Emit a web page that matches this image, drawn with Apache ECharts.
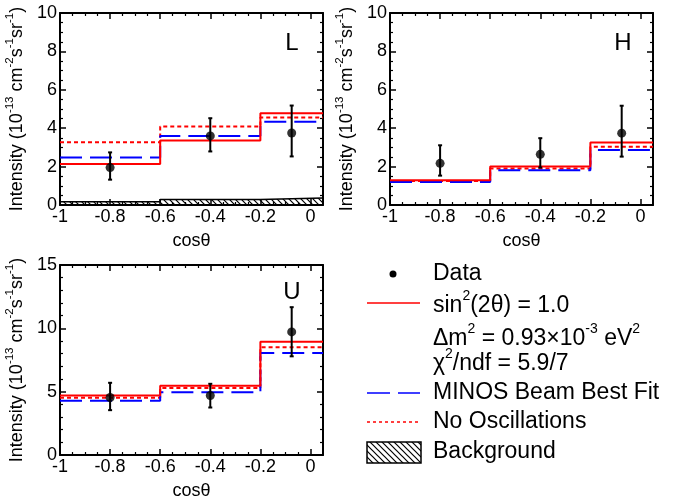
<!DOCTYPE html>
<html><head><meta charset="utf-8">
<script src="https://cdn.jsdelivr.net/npm/echarts@6/dist/echarts.min.js"></script>
<style>html,body{margin:0;padding:0;background:#fff}#c{width:681px;height:501px}</style>
</head><body><div id="c"></div>
<script>
// ---- data ----
var binEdges = [-1, -0.6, -0.2, 0.05];
var dataX = [-0.8, -0.4, -0.075];

var L_data = [1.95, 3.6, 3.75];
var L_errLow = [1.32, 2.79, 2.53];
var L_errHigh = [2.74, 4.52, 5.18];
var L_osc = [2.14, 3.36, 4.78];
var L_minos = [2.47, 3.6, 4.33];
var L_noOsc = [3.27, 4.09, 4.56];
var L_bkg = [0.17, 0.28, 0.36];

var H_data = [2.17, 2.64, 3.74];
var H_errLow = [1.53, 1.95, 2.52];
var H_errHigh = [3.11, 3.48, 5.17];
var H_osc = [1.29, 2.0, 3.25];
var H_minos = [1.2, 1.81, 2.87];
var H_noOsc = [1.25, 1.9, 3.03];
var H_bkg = [0, 0, 0];

var U_data = [4.54, 4.7, 9.72];
var U_errLow = [3.54, 3.75, 7.79];
var U_errHigh = [5.7, 5.62, 11.67];
var U_osc = [4.7, 5.47, 8.95];
var U_minos = [4.28, 4.96, 8.05];
var U_noOsc = [4.52, 5.28, 8.5];
var U_bkg = [0, 0, 0];

var xTicks = [-1, -0.8, -0.6, -0.4, -0.2, 0];
var panelNames = ['L', 'H', 'U'];

// ---- helpers ----
var FONT = "'Liberation Sans', Arial, Helvetica, sans-serif";
function stepData(vals) {
  var d = [];
  for (var i = 0; i < vals.length; i++) d.push([binEdges[i], vals[i]]);
  d.push([binEdges[binEdges.length - 1], vals[vals.length - 1]]);
  return d;
}
var hatch = document.createElement('canvas');
hatch.width = 6; hatch.height = 6;
(function () {
  var ctx = hatch.getContext('2d');
  ctx.strokeStyle = '#000'; ctx.lineWidth = 1.2;
  ctx.beginPath();
  ctx.moveTo(-1, -1); ctx.lineTo(7, 7);
  ctx.moveTo(-1, 5); ctx.lineTo(1, 7);
  ctx.moveTo(5, -1); ctx.lineTo(7, 1);
  ctx.stroke();
})();
var hatchPattern = { image: hatch, repeat: 'repeat' };

var grids = [
  { left: 60, top: 13, width: 263, height: 192 },
  { left: 390, top: 13, width: 263, height: 192 },
  { left: 60, top: 265, width: 263, height: 191 }
];
var yMax = [10, 10, 15];
var yInt = [2, 2, 5];
var yMinor = [4, 4, 5];

var yName = '{n|Intensity (10}{s|-13}{n| cm}{s|-2}{n|s}{s|-1}{n|sr}{s|-1}{n|)}';
var yRich = {
  n: { fontSize: 18, fontFamily: FONT, color: '#000', lineHeight: 22, verticalAlign: 'bottom' },
  s: { fontSize: 11.5, fontFamily: FONT, color: '#000', lineHeight: 11, verticalAlign: 'top' }
};

var xAxes = [], yAxes = [], series = [];
var panels = [
  [L_data, L_errLow, L_errHigh, L_osc, L_minos, L_noOsc, L_bkg],
  [H_data, H_errLow, H_errHigh, H_osc, H_minos, H_noOsc, H_bkg],
  [U_data, U_errLow, U_errHigh, U_osc, U_minos, U_noOsc, U_bkg]
];
for (var g = 0; g < 3; g++) {
  var axLine = { show: true, onZero: false, lineStyle: { color: '#000', width: 2 } };
  xAxes.push({
    type: 'value', gridIndex: g, min: -1, max: 0.05, interval: 0.2,
    axisLine: axLine,
    axisTick: { inside: true, length: 6, lineStyle: { color: '#000', width: 1.5 } },
    minorTick: { show: true, splitNumber: 4, length: 3, lineStyle: { color: '#000', width: 1.2 } },
    splitLine: { show: false },
    axisLabel: { fontSize: 18, fontFamily: FONT, color: '#000', margin: 3, showMaxLabel: false,
      formatter: function (v) { return Math.abs(v) < 1e-9 ? '0' : String(Math.round(v * 10) / 10); } },
    name: 'cosθ', nameLocation: 'middle', nameGap: 27,
    nameTextStyle: { fontSize: 18, fontFamily: FONT, color: '#000' }
  });
  xAxes.push({
    type: 'value', gridIndex: g, position: 'top', min: -1, max: 0.05, interval: 0.2,
    axisLine: axLine,
    axisTick: { inside: true, length: 6, lineStyle: { color: '#000', width: 1.5 } },
    minorTick: { show: true, splitNumber: 4, length: 3, lineStyle: { color: '#000', width: 1.2 } },
    splitLine: { show: false }, axisLabel: { show: false }
  });
  yAxes.push({
    type: 'value', gridIndex: g, min: 0, max: yMax[g], interval: yInt[g],
    axisLine: axLine,
    axisTick: { inside: true, length: 6, lineStyle: { color: '#000', width: 1.5 } },
    minorTick: { show: true, splitNumber: yMinor[g], length: 3, lineStyle: { color: '#000', width: 1.2 } },
    splitLine: { show: false },
    axisLabel: { fontSize: 18, fontFamily: FONT, color: '#000', margin: 3 },
    name: yName, nameLocation: 'middle', nameGap: 34, nameRotate: 90,
    nameTextStyle: { rich: yRich }
  });
  yAxes.push({
    type: 'value', gridIndex: g, position: 'right', min: 0, max: yMax[g], interval: yInt[g],
    axisLine: axLine,
    axisTick: { inside: true, length: 6, lineStyle: { color: '#000', width: 1.5 } },
    minorTick: { show: true, splitNumber: yMinor[g], length: 3, lineStyle: { color: '#000', width: 1.2 } },
    splitLine: { show: false }, axisLabel: { show: false }
  });
  var p = panels[g];
  var xi = g * 2, yi = g * 2;
  var hasBkg = p[6].some(function (v) { return v > 0; });
  if (hasBkg) {
    series.push({
      type: 'line', xAxisIndex: xi, yAxisIndex: yi, step: 'end', symbol: 'none',
      data: stepData(p[6]), lineStyle: { color: '#000', width: 1.5 },
      areaStyle: { color: hatchPattern, opacity: 1 }, z: 1, animation: false
    });
  }
  series.push({
    type: 'line', xAxisIndex: xi, yAxisIndex: yi, step: 'end', symbol: 'none',
    data: stepData(p[5]), lineStyle: { color: '#ff0000', width: 2, type: [4, 3] }, z: 2, animation: false
  });
  series.push({
    type: 'line', xAxisIndex: xi, yAxisIndex: yi, step: 'end', symbol: 'none',
    data: stepData(p[4]), lineStyle: { color: '#0000ff', width: 2, type: [22, 8] }, z: 3, animation: false
  });
  series.push({
    type: 'line', xAxisIndex: xi, yAxisIndex: yi, step: 'end', symbol: 'none',
    data: stepData(p[3]), lineStyle: { color: '#ff0000', width: 2 }, z: 4, animation: false
  });
  var errData = dataX.map(function (x, i) { return [x, p[1][i], p[2][i]]; });
  series.push({
    type: 'custom', xAxisIndex: xi, yAxisIndex: yi, z: 5, animation: false,
    data: errData,
    renderItem: function (params, api) {
      var lo = api.coord([api.value(0), api.value(1)]);
      var hi = api.coord([api.value(0), api.value(2)]);
      var st = { stroke: '#000', lineWidth: 2 };
      return { type: 'group', children: [
        { type: 'line', shape: { x1: lo[0], y1: lo[1], x2: hi[0], y2: hi[1] }, style: st },
        { type: 'line', shape: { x1: lo[0] - 2, y1: lo[1], x2: lo[0] + 2, y2: lo[1] }, style: st },
        { type: 'line', shape: { x1: hi[0] - 2, y1: hi[1], x2: hi[0] + 2, y2: hi[1] }, style: st }
      ] };
    }
  });
  series.push({
    type: 'scatter', xAxisIndex: xi, yAxisIndex: yi, z: 6, animation: false,
    symbol: 'circle', symbolSize: 9, itemStyle: { color: '#000' },
    data: dataX.map(function (x, i) { return [x, p[0][i]]; })
  });
}

var LF = '23px ' + FONT;
var legRich = {
  n: { fontSize: 23, fontFamily: FONT, color: '#000', lineHeight: 28, verticalAlign: 'bottom' },
  s: { fontSize: 14, fontFamily: FONT, color: '#000', lineHeight: 14, verticalAlign: 'top' }
};
var graphic = [
  { type: 'text', x: 292, y: 43, style: { text: 'L', font: '24px ' + FONT, fill: '#000', align: 'center', verticalAlign: 'middle' } },
  { type: 'text', x: 623, y: 43, style: { text: 'H', font: '24px ' + FONT, fill: '#000', align: 'center', verticalAlign: 'middle' } },
  { type: 'text', x: 292, y: 292, style: { text: 'U', font: '24px ' + FONT, fill: '#000', align: 'center', verticalAlign: 'middle' } },
  { type: 'circle', shape: { cx: 393, cy: 274, r: 3.5 }, style: { fill: '#000' } },
  { type: 'line', shape: { x1: 367, y1: 303, x2: 420, y2: 303 }, style: { stroke: '#ff0000', lineWidth: 1.5 } },
  { type: 'line', shape: { x1: 367, y1: 393, x2: 420, y2: 393 }, style: { stroke: '#0000ff', lineWidth: 1.5, lineDash: [23, 8] } },
  { type: 'line', shape: { x1: 367, y1: 422, x2: 420, y2: 422 }, style: { stroke: '#ff0000', lineWidth: 1.5, lineDash: [3, 3] } },
  { type: 'rect', shape: { x: 367, y: 442, width: 54, height: 21 }, style: { fill: hatchPattern, stroke: '#000', lineWidth: 1.5 } },
  { type: 'text', x: 433, y: 274, style: { text: 'Data', font: LF, fill: '#000', verticalAlign: 'middle' } },
  { type: 'text', x: 433, y: 303, style: { text: '{n|sin}{s|2}{n|(2θ) = 1.0}', rich: legRich, verticalAlign: 'middle' } },
  { type: 'text', x: 433, y: 336, style: { text: '{n|Δm}{s|2}{n| = 0.93×10}{s|-3}{n| eV}{s|2}', rich: legRich, verticalAlign: 'middle' } },
  { type: 'text', x: 433, y: 361, style: { text: '{n|χ}{s|2}{n|/ndf = 5.9/7}', rich: legRich, verticalAlign: 'middle' } },
  { type: 'text', x: 433, y: 393, style: { text: 'MINOS Beam Best Fit', font: LF, fill: '#000', verticalAlign: 'middle' } },
  { type: 'text', x: 433, y: 422, style: { text: 'No Oscillations', font: LF, fill: '#000', verticalAlign: 'middle' } },
  { type: 'text', x: 433, y: 452, style: { text: 'Background', font: LF, fill: '#000', verticalAlign: 'middle' } }
];

var chart = echarts.init(document.getElementById('c'), null, { renderer: 'canvas' });
chart.setOption({
  animation: false,
  backgroundColor: '#fff',
  grid: grids,
  xAxis: xAxes,
  yAxis: yAxes,
  series: series,
  graphic: graphic
});
</script></body></html>
